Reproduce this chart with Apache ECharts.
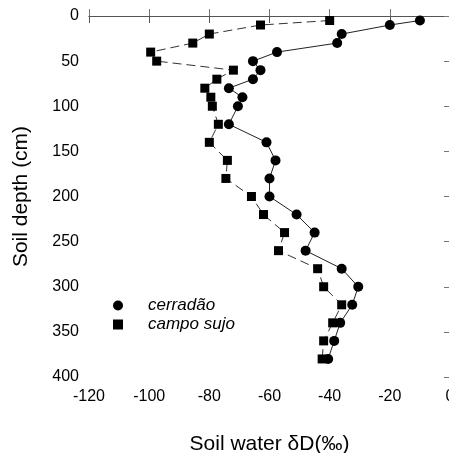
<!DOCTYPE html>
<html>
<head>
<meta charset="utf-8">
<script src="https://cdn.jsdelivr.net/npm/echarts@6/dist/echarts.min.js"></script>
<style>html,body{margin:0;padding:0;background:#fff}#c{width:449px;height:453px}</style>
</head>
<body>
<div id="c"></div>
<script>
// Soil depth (cm)
var depths = [5, 10, 20, 30, 40, 50, 60, 70, 80, 90, 100, 120, 140, 160, 180, 200, 220, 240, 260, 280, 300, 320, 340, 360, 380];
// Soil water δD (‰)
var cerradao = [-10, -20, -36, -37.5, -57.5, -65.5, -63, -65.5, -73.5, -69, -70.5, -73.5, -61, -58, -60, -60, -51, -45, -48, -36, -30.5, -32.5, -36.5, -38.5, -40.5];
var campoSujo = [-40, -63, -80, -85.5, -99.5, -97.5, -72, -77.5, -81.5, -79.5, -79, -77, -80, -74, -74.5, -66, -62, -55, -57, -44, -42, -36, -39, -42, -42.5];
var seriesNames = ['cerradão', 'campo sujo'];
var xTicks = {min: -120, max: 0, step: 20};
var yTicks = {min: 0, max: 400, step: 50};

function pairs(vals) { return vals.map(function (v, i) { return [v, depths[i]]; }); }

var font = 'Liberation Sans, Arial, sans-serif';
var chart = echarts.init(document.getElementById('c'), null, {renderer: 'canvas'});
chart.setOption({
  animation: false,
  backgroundColor: '#fff',
  grid: {left: 89, top: 16, width: 361, height: 361, containLabel: false, outerBoundsMode: 'none'},
  xAxis: [{
    type: 'value', position: 'bottom', min: xTicks.min, max: xTicks.max, interval: xTicks.step,
    name: 'Soil water δD(‰)', nameLocation: 'middle', nameGap: 57,
    nameTextStyle: {fontFamily: font, fontSize: 21, color: '#000'},
    axisLine: {show: true, lineStyle: {color: '#777', width: 1}},
    axisTick: {show: true, inside: true, length: 7, lineStyle: {color: '#777'}},
    axisLabel: {fontFamily: font, fontSize: 16, color: '#000', margin: 12},
    splitLine: {show: false}
  }, {
    type: 'value', position: 'top', min: xTicks.min, max: xTicks.max, interval: xTicks.step,
    axisLine: {show: true, lineStyle: {color: '#555', width: 1}},
    axisTick: {show: true, inside: true, length: 7, lineStyle: {color: '#555'}},
    axisLabel: {show: false}, splitLine: {show: false}
  }],
  yAxis: [{
    type: 'value', position: 'left', inverse: true, min: yTicks.min, max: yTicks.max, interval: yTicks.step,
    name: 'Soil depth (cm)', nameLocation: 'middle', nameGap: 57, nameRotate: 90,
    nameTextStyle: {fontFamily: font, fontSize: 21, color: '#000'},
    axisLine: {show: true, lineStyle: {color: '#888', width: 1}},
    axisTick: {show: true, inside: true, length: 7, lineStyle: {color: '#777'}},
    axisLabel: {fontFamily: font, fontSize: 16, color: '#000', margin: 10},
    splitLine: {show: false}
  }, {
    type: 'value', position: 'right', inverse: true, min: yTicks.min, max: yTicks.max, interval: yTicks.step,
    axisLine: {show: true, lineStyle: {color: '#777', width: 1}},
    axisTick: {show: true, inside: true, length: 6, lineStyle: {color: '#777'}},
    axisLabel: {show: false}, splitLine: {show: false}
  }],
  legend: {
    orient: 'vertical', left: 108, top: 292, itemGap: 2, itemWidth: 10, itemHeight: 10,
    data: [{name: seriesNames[0], icon: 'circle'}, {name: seriesNames[1], icon: 'rect'}],
    textStyle: {fontFamily: font, fontSize: 17, fontStyle: 'italic', color: '#000', padding: [0, 0, 0, 20]},
    selectedMode: false
  },
  series: [{
    name: seriesNames[0], type: 'line', xAxisIndex: 0, yAxisIndex: 0,
    data: pairs(cerradao), symbol: 'circle', symbolSize: 10,
    itemStyle: {color: '#000'}, lineStyle: {color: '#222', width: 1}
  }, {
    name: seriesNames[1], type: 'line', xAxisIndex: 0, yAxisIndex: 0,
    data: pairs(campoSujo), symbol: 'rect', symbolSize: 9,
    itemStyle: {color: '#000'}, lineStyle: {color: '#333', width: 1, type: [9, 5]}
  }]
});
</script>
</body>
</html>
